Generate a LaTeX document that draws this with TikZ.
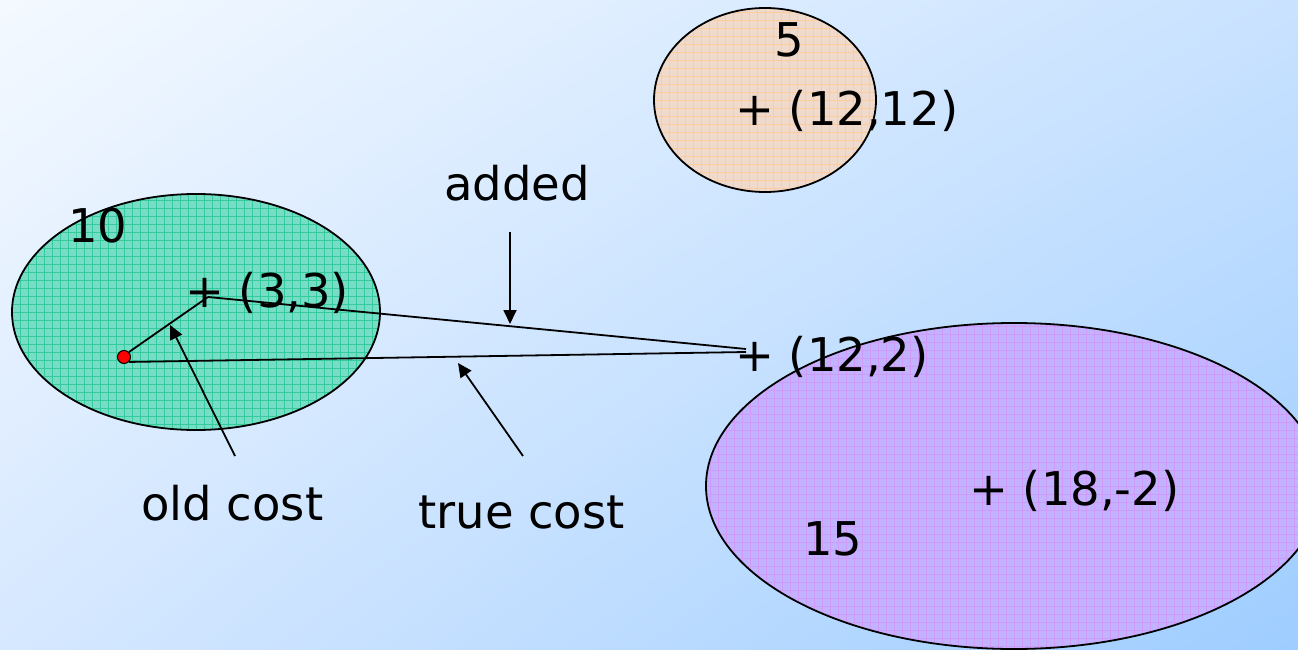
\documentclass[tikz,border=0pt]{standalone}
\usepackage{fontspec}
\setmainfont{DejaVu Sans}
\usetikzlibrary{shapes.geometric,arrows.meta,shadings}
\definecolor{bgTL}{HTML}{F4F9FF}
\definecolor{bgTR}{HTML}{C9E2FF}
\definecolor{bgBL}{HTML}{D6E8FF}
\definecolor{bgBR}{HTML}{9ECDFF}
\definecolor{greenF}{HTML}{78DDC6}
\definecolor{greenG}{HTML}{34CC9C}
\definecolor{orangeF}{HTML}{F0DACB}
\definecolor{orangeG}{HTML}{FCCB9E}
\definecolor{purpleF}{HTML}{C1B3FF}
\definecolor{purpleG}{HTML}{CF9AF8}
\definecolor{dotred}{HTML}{FF0000}
\tikzset{
  blob/.style={ellipse, draw=black, line width=1.8pt, inner sep=0pt},
  gridfill/.style={path picture={\draw[#1, line width=0.8pt, step=8pt]
      ([xshift=-8pt,yshift=-8pt]path picture bounding box.south west) grid
      ([xshift=8pt,yshift=8pt]path picture bounding box.north east);}},
  lbl/.style={inner sep=0pt, anchor=base west, font=\fontsize{46.5}{56}\selectfont},
  conn/.style={line width=1.8pt, black},
  pointer/.style={line width=1.8pt, black, -{Triangle[length=14pt,width=13pt]}},
}
\begin{document}
\begin{tikzpicture}[x=1pt,y=-1pt]
\useasboundingbox (0,0) rectangle (1298,650);
\shade[upper left=bgTL, upper right=bgTR, lower left=bgBL, lower right=bgBR] (0,0) rectangle (1298,650);
% ellipses
\node[blob, fill=greenF, gridfill=greenG, minimum width=368pt, minimum height=236pt] (green) at (196,312) {};
\node[blob, fill=orangeF, gridfill=orangeG, minimum width=222pt, minimum height=184pt] (orange) at (765,100) {};
\node[blob, fill=purpleF, gridfill=purpleG, minimum width=616pt, minimum height=326pt] (purple) at (1014,486) {};
% labels
\node[lbl] (t10) at (68,242) {10};
\node[lbl] (t33) at (185,307) {+ (3,3)};
\node[lbl] (t5) at (774,57) {5};
\node[lbl] (t1212) at (735,125) {+ (12,12)};
\node[lbl] (t122) at (735,371) {+ (12,2)};
\node[lbl] (t182) at (969,505) {+ (18,-2)};
\node[lbl] (t15) at (803,555) {15};
\node[lbl] (added) at (444,200) {added};
\node[lbl] (old) at (141,520) {old cost};
\node[lbl] (truec) at (418,528) {true cost};
% points
\coordinate (p33) at (208,297);
\coordinate (p122a) at (746,349);
\coordinate (p122b) at (746,352);
\node[circle, fill=dotred, draw=black, line width=1pt, minimum size=13pt, inner sep=0pt] (dot) at (124,357) {};
% connectors
\draw[conn] (p33) -- (p122a);
\draw[conn] (dot.south east) -- (p122b);
\draw[conn] (dot.north east) -- (p33);
% pointers
\coordinate (addT) at (510,232);
\coordinate (addH) at (510,324);
\coordinate (oldT) at (235,456);
\coordinate (oldH) at (170,325);
\coordinate (trueT) at (523,456);
\coordinate (trueH) at (458,363);
\draw[pointer] (addT) -- (addH);
\draw[pointer] (oldT) -- (oldH);
\draw[pointer] (trueT) -- (trueH);
\end{tikzpicture}
\end{document}
